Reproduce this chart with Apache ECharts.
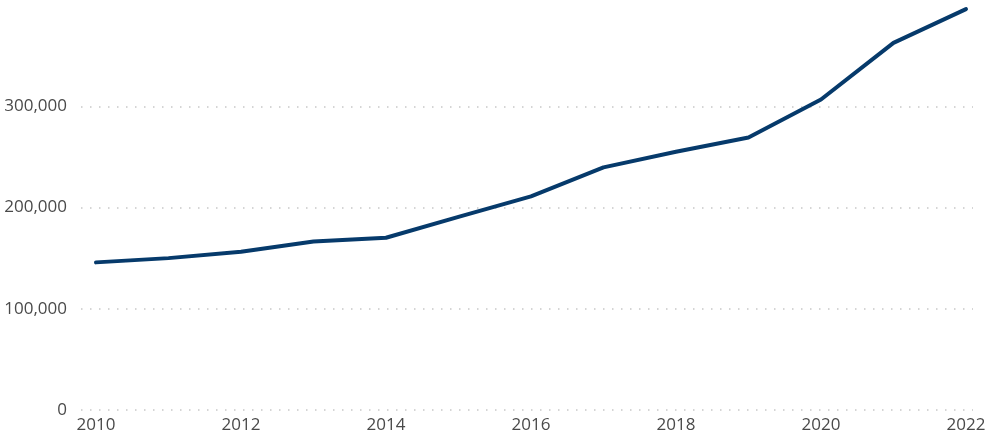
<!DOCTYPE html>
<html>
<head>
<meta charset="utf-8">
<script src="https://cdn.jsdelivr.net/npm/echarts@6/dist/echarts.min.js"></script>
<style>
html,body{margin:0;padding:0;background:#fff;}
#chart{width:991px;height:439px;}
</style>
</head>
<body>
<div id="chart"></div>
<script>
var years = [2010, 2011, 2012, 2013, 2014, 2015, 2016, 2017, 2018, 2019, 2020, 2021, 2022];
var values = [145800, 150000, 156300, 166500, 170100, 190800, 211000, 239600, 255000, 269200, 306700, 362600, 395900];
var xTickLabels = [2010, 2012, 2014, 2016, 2018, 2020, 2022];
var yTicks = [0, 100000, 200000, 300000];

var chart = echarts.init(document.getElementById('chart'));
var data = years.map(function (y, i) { return [y, values[i]]; });
chart.setOption({
  animation: false,
  backgroundColor: '#ffffff',
  grid: { left: 81, right: 18, top: 5, bottom: 29, containLabel: false },
  xAxis: {
    type: 'value',
    min: 2009.793,
    max: 2022.097,
    axisLine: { show: false },
    axisTick: { show: false },
    splitLine: { show: false },
    axisLabel: {
      customValues: xTickLabels,
      formatter: function (v) { return String(Math.round(v)); },
      color: '#4a4a4a',
      fontFamily: 'Open Sans',
      fontSize: 17,
      margin: 7
    }
  },
  yAxis: {
    type: 'value',
    min: 0,
    max: 400000,
    interval: 100000,
    axisLine: { show: false },
    axisTick: { show: false },
    axisLabel: {
      showMaxLabel: false,
      formatter: function (v) { return v.toLocaleString('en-US'); },
      color: '#4a4a4a',
      fontFamily: 'Open Sans',
      fontSize: 17,
      margin: 14
    },
    splitLine: {
      show: true,
      showMaxLine: false,
      showMinLine: true,
      lineStyle: { color: '#c8c8c8', width: 1.5, type: [1.5, 7.5] }
    }
  },
  series: [{
    type: 'line',
    data: data,
    showSymbol: false,
    symbol: 'none',
    lineStyle: { color: '#063a6b', width: 4, cap: 'round', join: 'round' }
  }]
});
</script>
</body>
</html>
